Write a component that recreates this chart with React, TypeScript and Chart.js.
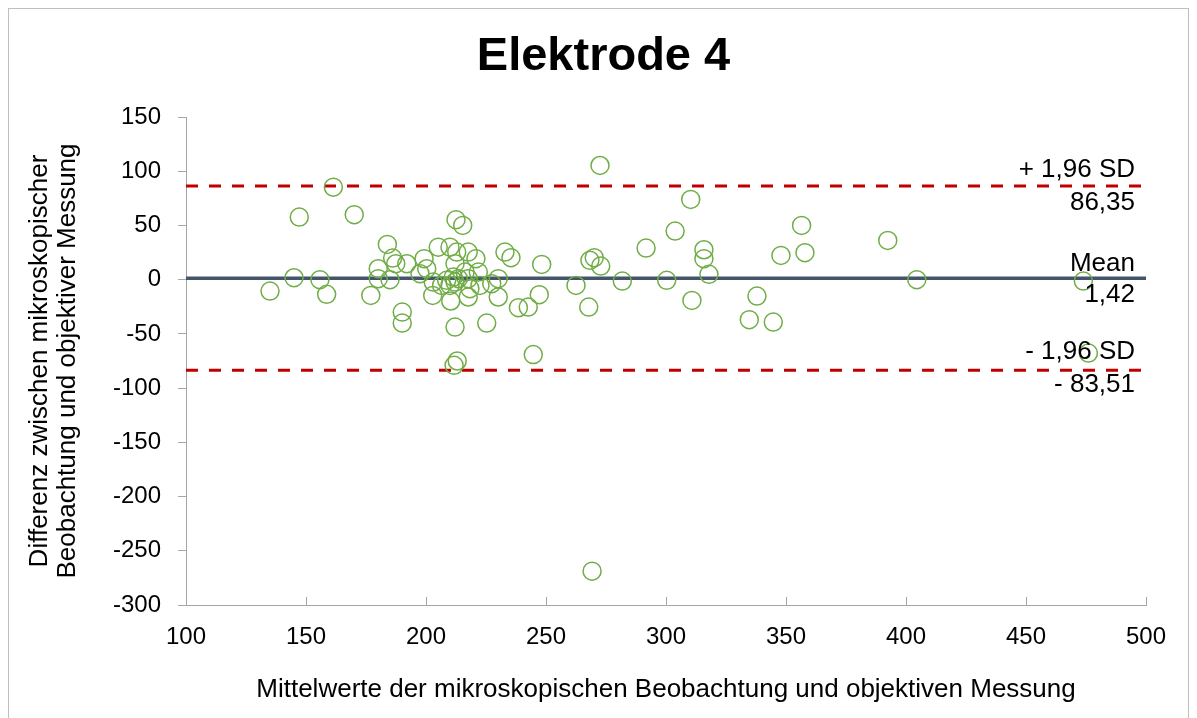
import React, { useEffect, useRef } from "react";
import { Chart, registerables } from "chart.js";

Chart.register(...registerables);

const titleText = "Elektrode 4";
const xAxisTitle = "Mittelwerte der mikroskopischen Beobachtung und objektiven Messung";
const yAxisTitle = ["Differenz zwischen mikroskopischer", "Beobachtung und objektiver Messung"];

const meanX = [
  135.0, 145.0, 147.2, 155.8, 158.6, 161.4, 170.1, 177.0, 180.1, 180.1,
  183.9, 185.0, 186.1, 187.4, 192.0, 190.1, 190.1, 199.2, 197.5, 200.3,
  205.1, 210.0, 212.8, 217.6, 220.8, 212.1, 212.5, 215.3, 203.0, 202.8,
  206.5, 208.6, 211.4, 213.5, 210.0, 216.3, 221.8, 218.3, 217.6, 210.3,
  222.5, 227.4, 230.1, 230.1, 232.9, 235.4, 248.2, 247.2, 238.5, 242.6,
  212.1, 225.3, 244.7, 213.0, 211.7, 272.5, 310.3, 303.8, 291.7, 315.8,
  315.8, 317.9, 268.3, 270.1, 272.8, 262.5, 281.8, 300.3, 310.8, 267.8,
  337.9, 334.7, 356.5, 347.9, 357.9, 392.4, 404.5, 473.9, 344.7, 476.0,
  269.2, 217.6, 212.1,
];
const diffY = [
  -10.5, 1.8, 57.7, 0.0, -13.5, 85.3, 59.9, -14.5, 10.1, 0.9,
  32.5, 0.0, 19.9, 14.7, 14.7, -29.9, -40.0, 19.4, 5.5, 10.1,
  30.0, 30.0, 25.4, 25.4, 19.4, 14.7, 55.3, 50.0, -2.2, -14.5,
  -5.3, -0.6, 2.4, 0.9, -5.3, 7.0, 7.0, -8.3, -16.0, -19.7,
  -5.3, -3.7, 0.9, -16.0, 25.4, 20.3, 14.1, -13.8, -25.8, -25.3,
  -43.7, -40.0, -69.1, -75.0, -79.0, 105.3, 74.0, 44.8, 29.1, 27.6,
  19.4, 4.9, 17.8, 20.3, 12.5, -5.3, -1.3, -0.6, -19.1, -25.3,
  -15.1, -36.9, 50.0, 22.4, 24.9, 36.2, 0.0, -1.3, -39.1, -67.7,
  -268.8, 0.9, -2.2,
];

const meanDiff = 1.42;
const upperLimit = 86.35;
const lowerLimit = -83.51;
const xRange = [100, 500];
const yRange = [-300, 150];

const fmt = (v: number) => (v < 0 ? "- " : "") + Math.abs(v).toFixed(2).replace(".", ",");

const FONT = "'Liberation Sans', Arial, sans-serif";

export default function App() {
  const ref = useRef<HTMLCanvasElement | null>(null);

  useEffect(() => {
    if (!ref.current) return;
    const labelsPlugin = {
      id: "limitLabels",
      afterDraw(chart: any) {
        const { ctx, chartArea, scales } = chart;
        const x = chartArea.right - 11;
        const items: [string, number, number][] = [
          ["+ 1,96 SD", upperLimit, -16],
          [fmt(upperLimit), upperLimit, 17],
          ["Mean", meanDiff, -14],
          [fmt(meanDiff), meanDiff, 17],
          ["- 1,96 SD", lowerLimit, -18],
          [fmt(lowerLimit), lowerLimit, 15],
        ];
        ctx.save();
        ctx.font = `26px ${FONT}`;
        ctx.fillStyle = "#000";
        ctx.textAlign = "right";
        ctx.textBaseline = "middle";
        for (const [t, v, off] of items) {
          ctx.fillText(t, x, scales.y.getPixelForValue(v) + off);
        }
        // inner tick marks on x axis
        ctx.strokeStyle = "#A6A6A6";
        ctx.lineWidth = 1;
        for (let v = xRange[0] + 50; v <= xRange[1]; v += 50) {
          const px = Math.round(scales.x.getPixelForValue(v)) + 0.5;
          ctx.beginPath();
          ctx.moveTo(px, chartArea.bottom);
          ctx.lineTo(px, chartArea.bottom - 8);
          ctx.stroke();
        }
        ctx.restore();
      },
    };

    const chart = new Chart(ref.current, {
      type: "scatter",
      data: {
        datasets: [
          {
            label: "Differenz",
            data: meanX.map((x, i) => ({ x, y: diffY[i] })),
            pointRadius: 9,
            pointHoverRadius: 9,
            pointBorderWidth: 1.5,
            borderColor: "#70AD47",
            pointBorderColor: "#70AD47",
            backgroundColor: "rgba(0,0,0,0)",
            pointBackgroundColor: "rgba(0,0,0,0)",
            showLine: false,
            order: 0,
          },
          {
            label: "Mean",
            type: "line",
            data: [
              { x: xRange[0], y: meanDiff },
              { x: xRange[1], y: meanDiff },
            ],
            borderColor: "#44546A",
            borderWidth: 3.5,
            pointRadius: 0,
            order: 1,
          },
          {
            label: "+1,96 SD",
            type: "line",
            data: [
              { x: xRange[0], y: upperLimit },
              { x: xRange[1], y: upperLimit },
            ],
            borderColor: "#C00000",
            borderWidth: 3,
            borderDash: [12, 11],
            pointRadius: 0,
            order: 1,
          },
          {
            label: "-1,96 SD",
            type: "line",
            data: [
              { x: xRange[0], y: lowerLimit },
              { x: xRange[1], y: lowerLimit },
            ],
            borderColor: "#C00000",
            borderWidth: 3,
            borderDash: [12, 11],
            pointRadius: 0,
            order: 1,
          },
        ],
      } as any,
      options: {
        animation: false,
        responsive: false,
        maintainAspectRatio: false,
        layout: { padding: { left: 10, right: 0, top: 0, bottom: 0 } },
        plugins: {
          legend: { display: false },
          tooltip: { enabled: false },
          title: {
            display: true,
            text: titleText,
            color: "#000",
            font: { family: FONT, size: 47, weight: "bold", lineHeight: 1.2 },
            padding: { top: 19.5, bottom: 32.1 },
          },
        },
        scales: {
          x: {
            type: "linear",
            min: xRange[0],
            max: xRange[1],
            ticks: {
              stepSize: 50,
              color: "#000",
              font: { family: FONT, size: 24, lineHeight: 1.2 },
              padding: 18,
              maxRotation: 0,
            },
            grid: { drawOnChartArea: false, drawTicks: false },
            border: { display: true, color: "#A6A6A6", width: 1 },
            title: {
              display: true,
              text: xAxisTitle,
              color: "#000",
              font: { family: FONT, size: 26, lineHeight: 1.05 },
              padding: { top: 0, bottom: 15.4 },
            },
            afterFit(scale: any) {
              scale.height = 114;
            },
          },
          y: {
            type: "linear",
            min: yRange[0],
            max: yRange[1],
            ticks: {
              stepSize: 50,
              color: "#000",
              font: { family: FONT, size: 24, lineHeight: 1.2 },
              padding: 17,
            },
            grid: {
              drawOnChartArea: false,
              drawTicks: true,
              tickLength: 8,
              color: "#A6A6A6",
            },
            border: { display: true, color: "#A6A6A6", width: 1 },
            title: {
              display: true,
              text: yAxisTitle,
              color: "#000",
              font: { family: FONT, size: 26, lineHeight: 1.05 },
              padding: { top: 7.4, bottom: 0 },
            },
            afterFit(scale: any) {
              scale.width = 167;
            },
          },
          yRight: {
            type: "linear",
            position: "right",
            min: yRange[0],
            max: yRange[1],
            display: true,
            ticks: { display: false },
            grid: { display: false, drawTicks: false },
            border: { display: false },
            afterFit(scale: any) {
              scale.width = 42;
            },
          },
        },
      } as any,
      plugins: [labelsPlugin],
    });
    return () => chart.destroy();
  }, []);

  return (
    <div
      style={{
        width: 1179,
        height: 710,
        border: "1px solid #BFBFBF",
        background: "#fff",
      }}
    >
      <canvas ref={ref} width={1179} height={710} style={{ display: "block" }} />
    </div>
  );
}
